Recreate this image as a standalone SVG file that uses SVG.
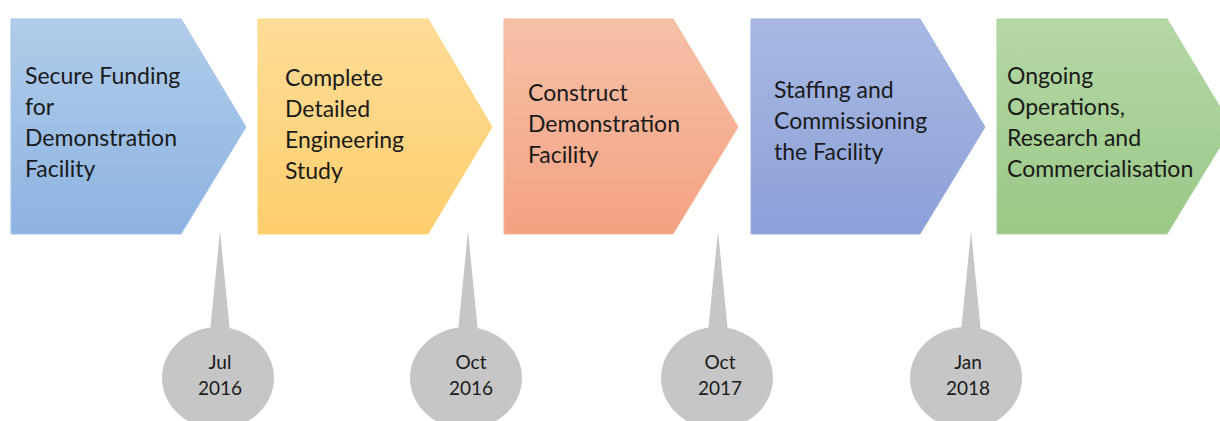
<svg xmlns="http://www.w3.org/2000/svg" width="1220" height="421" viewBox="0 0 1220 421">
<defs>
<linearGradient id="g1" x1="0" y1="0" x2="0" y2="1"><stop offset="0" stop-color="#b1cce9"/><stop offset="1" stop-color="#8db3e2"/></linearGradient>
<linearGradient id="g2" x1="0" y1="0" x2="0" y2="1"><stop offset="0" stop-color="#fedc98"/><stop offset="1" stop-color="#fdce6d"/></linearGradient>
<linearGradient id="g3" x1="0" y1="0" x2="0" y2="1"><stop offset="0" stop-color="#f6c1a8"/><stop offset="1" stop-color="#f4a281"/></linearGradient>
<linearGradient id="g4" x1="0" y1="0" x2="0" y2="1"><stop offset="0" stop-color="#a9b9e3"/><stop offset="1" stop-color="#8ba0d8"/></linearGradient>
<linearGradient id="g5" x1="0" y1="0" x2="0" y2="1"><stop offset="0" stop-color="#b5d8a6"/><stop offset="1" stop-color="#9bc887"/></linearGradient>
</defs>
<style>
.lbl{font-family:Lato,"Liberation Sans",sans-serif;font-size:23px;fill:#1a1a1a}
.date{font-family:Lato,"Liberation Sans",sans-serif;font-size:19px;fill:#1a1a1a;text-anchor:middle}
.bub{fill:#c6c6c6}
</style>
<rect width="1220" height="421" fill="#ffffff"/>
<g id="step1">
<polygon points="11,19 181,19 246,127 181,234 11,234" fill="url(#g1)" stroke="#a3c3ea" stroke-width="1"/>
<text class="lbl"><tspan x="25" y="84">Secure Funding</tspan><tspan x="25" y="115">for</tspan><tspan x="25" y="146">Demonstration</tspan><tspan x="25" y="177">Facility</tspan></text>
</g>
<g id="step2">
<polygon points="258,19 428,19 492,127 428,234 258,234" fill="url(#g2)" stroke="#fdd679" stroke-width="1"/>
<text class="lbl"><tspan x="285" y="86">Complete</tspan><tspan x="285" y="117">Detailed</tspan><tspan x="285" y="148">Engineering</tspan><tspan x="285" y="179">Study</tspan></text>
</g>
<g id="step3">
<polygon points="504,19 673,19 738,127 673,234 504,234" fill="url(#g3)" stroke="#f5b396" stroke-width="1"/>
<text class="lbl"><tspan x="528" y="101">Construct</tspan><tspan x="528" y="132">Demonstration</tspan><tspan x="528" y="163">Facility</tspan></text>
</g>
<g id="step4">
<polygon points="751,19 920,19 985,127 920,234 751,234" fill="url(#g4)" stroke="#9aaee0" stroke-width="1"/>
<text class="lbl"><tspan x="774" y="98">Staffing and</tspan><tspan x="774" y="129">Commissioning</tspan><tspan x="774" y="160">the Facility</tspan></text>
</g>
<g id="step5">
<polygon points="997,19 1167,19 1232,127 1167,234 997,234" fill="url(#g5)" stroke="#a9d198" stroke-width="1"/>
<text class="lbl"><tspan x="1007" y="84">Ongoing</tspan><tspan x="1007" y="115">Operations,</tspan><tspan x="1007" y="146">Research and</tspan><tspan x="1007" y="177">Commercialisation</tspan></text>
</g>
<g id="date1">
<path class="bub" d="M220,231 L230,332 L210,332 Z"/>
<ellipse class="bub" cx="218" cy="378" rx="56" ry="51"/>
<text class="date"><tspan x="220" y="369">Jul</tspan><tspan x="220" y="395">2016</tspan></text>
</g>
<g id="date2">
<path class="bub" d="M468,231 L478,332 L458,332 Z"/>
<ellipse class="bub" cx="466" cy="378" rx="56" ry="51"/>
<text class="date"><tspan x="471" y="369">Oct</tspan><tspan x="471" y="395">2016</tspan></text>
</g>
<g id="date3">
<path class="bub" d="M718,231 L728,332 L708,332 Z"/>
<ellipse class="bub" cx="717" cy="378" rx="56" ry="51"/>
<text class="date"><tspan x="720" y="369">Oct</tspan><tspan x="720" y="395">2017</tspan></text>
</g>
<g id="date4">
<path class="bub" d="M971,231 L981,332 L961,332 Z"/>
<ellipse class="bub" cx="966" cy="378" rx="56" ry="51"/>
<text class="date"><tspan x="968" y="369">Jan</tspan><tspan x="968" y="395">2018</tspan></text>
</g>
<g id="connectors"></g>
</svg>
